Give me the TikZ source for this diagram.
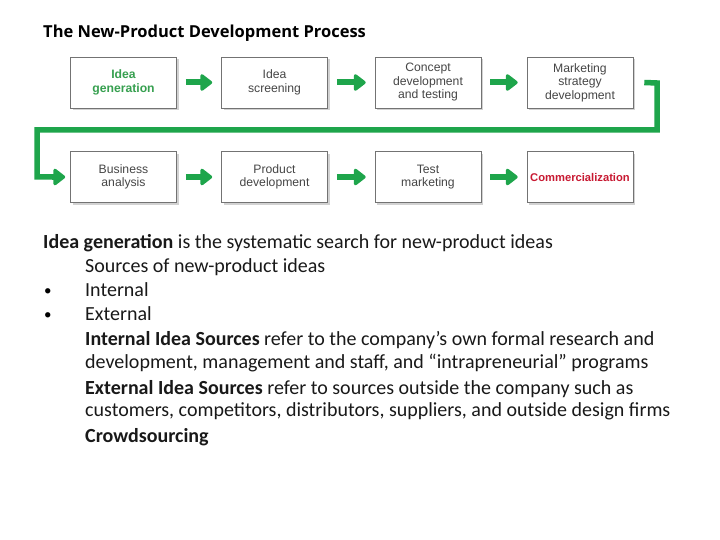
\documentclass[tikz,border=0pt]{standalone}
\usepackage{fontspec}
\setmainfont{Carlito}
\newfontfamily\boxfont{Liberation Sans}
\newfontfamily\titlefont{Open Sans}
\usetikzlibrary{arrows.meta,shadows}
\definecolor{pgreen}{RGB}{30,165,75}
\definecolor{tgreen}{RGB}{55,160,80}
\definecolor{cred}{RGB}{200,25,50}
\definecolor{boxtext}{RGB}{70,70,70}
\tikzset{
  stage/.style={draw=black!55, line width=0.6pt, fill=white, minimum width=106pt, minimum height=51pt,
    inner sep=1pt, align=center, font=\boxfont\fontsize{12.2}{13.5}\selectfont, text=boxtext,
    drop shadow={opacity=0.35, shadow xshift=2pt, shadow yshift=-2.5pt}},
  flow/.style={pgreen, line width=6pt, -{Triangle[length=13pt,width=19pt,round]}},
  loop/.style={pgreen, line width=5.5pt},
  body/.style={anchor=base west, inner sep=0pt, font=\fontsize{20}{23}\selectfont, text=black!90},
  bul/.style={anchor=base west, inner sep=0pt, font=\fontsize{15}{17}\selectfont}
}
\begin{document}
\begin{tikzpicture}[x=1pt,y=-1pt]
\useasboundingbox (0,0) rectangle (720,540);
\fill[white] (0,0) rectangle (720,540);
\node[anchor=base west, inner sep=0pt, font=\titlefont\bfseries\fontsize{16.5}{19}\selectfont] (title) at (43,38) {The New-Product Development Process};
% row 1
\node[stage, text=tgreen, font=\boxfont\bfseries\fontsize{12.2}{13.5}\selectfont] (s1) at (123.5,82.5) {Idea\\generation};
\node[stage] (s2) at (274.5,82.5) {Idea\\screening};
\node[stage] (s3) at (428,82.5) {Concept\\development\\and testing};
\node[stage] (s4) at (580,82.5) {Marketing\\strategy\\development};
% row 2
\node[stage] (s5) at (123.5,177) {Business\\analysis};
\node[stage] (s6) at (274.5,177) {Product\\development};
\node[stage] (s7) at (428,177) {Test\\marketing};
\node[stage, text=cred, font=\boxfont\bfseries\fontsize{11.2}{13}\selectfont] (s8) at (580,177) {Commercialization};
% arrows
\draw[flow] ([xshift=9pt]s1.east) -- ([xshift=-9pt]s2.west);
\draw[flow] ([xshift=9pt]s2.east) -- ([xshift=-9pt]s3.west);
\draw[flow] ([xshift=9pt]s3.east) -- ([xshift=-9pt]s4.west);
\draw[flow] ([xshift=9pt]s5.east) -- ([xshift=-9pt]s6.west);
\draw[flow] ([xshift=9pt]s6.east) -- ([xshift=-9pt]s7.west);
\draw[flow] ([xshift=9pt]s7.east) -- ([xshift=-9pt]s8.west);
\coordinate (lA) at (657,83);
\coordinate (lB) at (657,130);
\coordinate (lC) at (37,130);
\coordinate (lD) at (37,177);
\draw[loop, line join=miter] ([xshift=11pt]s4.east) -- (lA) -- (lB) -- (lC) -- (lD) -- ([xshift=-15pt]s5.west);
\draw[flow] ([xshift=-18pt]s5.west) -- ([xshift=-5pt]s5.west);
% text
\node[body] (t1) at (43,248) {\textbf{Idea generation} is the systematic search for new-product ideas};
\node[body] (t2) at (85,272) {Sources of new-product ideas};
\node[bul] (b1) at (44,295) {•};
\node[body] (t3) at (85,296) {Internal};
\node[bul] (b2) at (44,319) {•};
\node[body] (t4) at (85,320) {External};
\node[body] (t5) at (85,345) {\textbf{Internal Idea Sources} refer to the company’s own formal research and};
\node[body] (t6) at (85,368) {development, management and staff, and “intrapreneurial” programs};
\node[body] (t7) at (85,394) {\textbf{External Idea Sources} refer to sources outside the company such as};
\node[body] (t8) at (85,416) {customers, competitors, distributors, suppliers, and outside design firms};
\node[body] (t9) at (85,442) {\textbf{Crowdsourcing}};
\end{tikzpicture}
\end{document}
